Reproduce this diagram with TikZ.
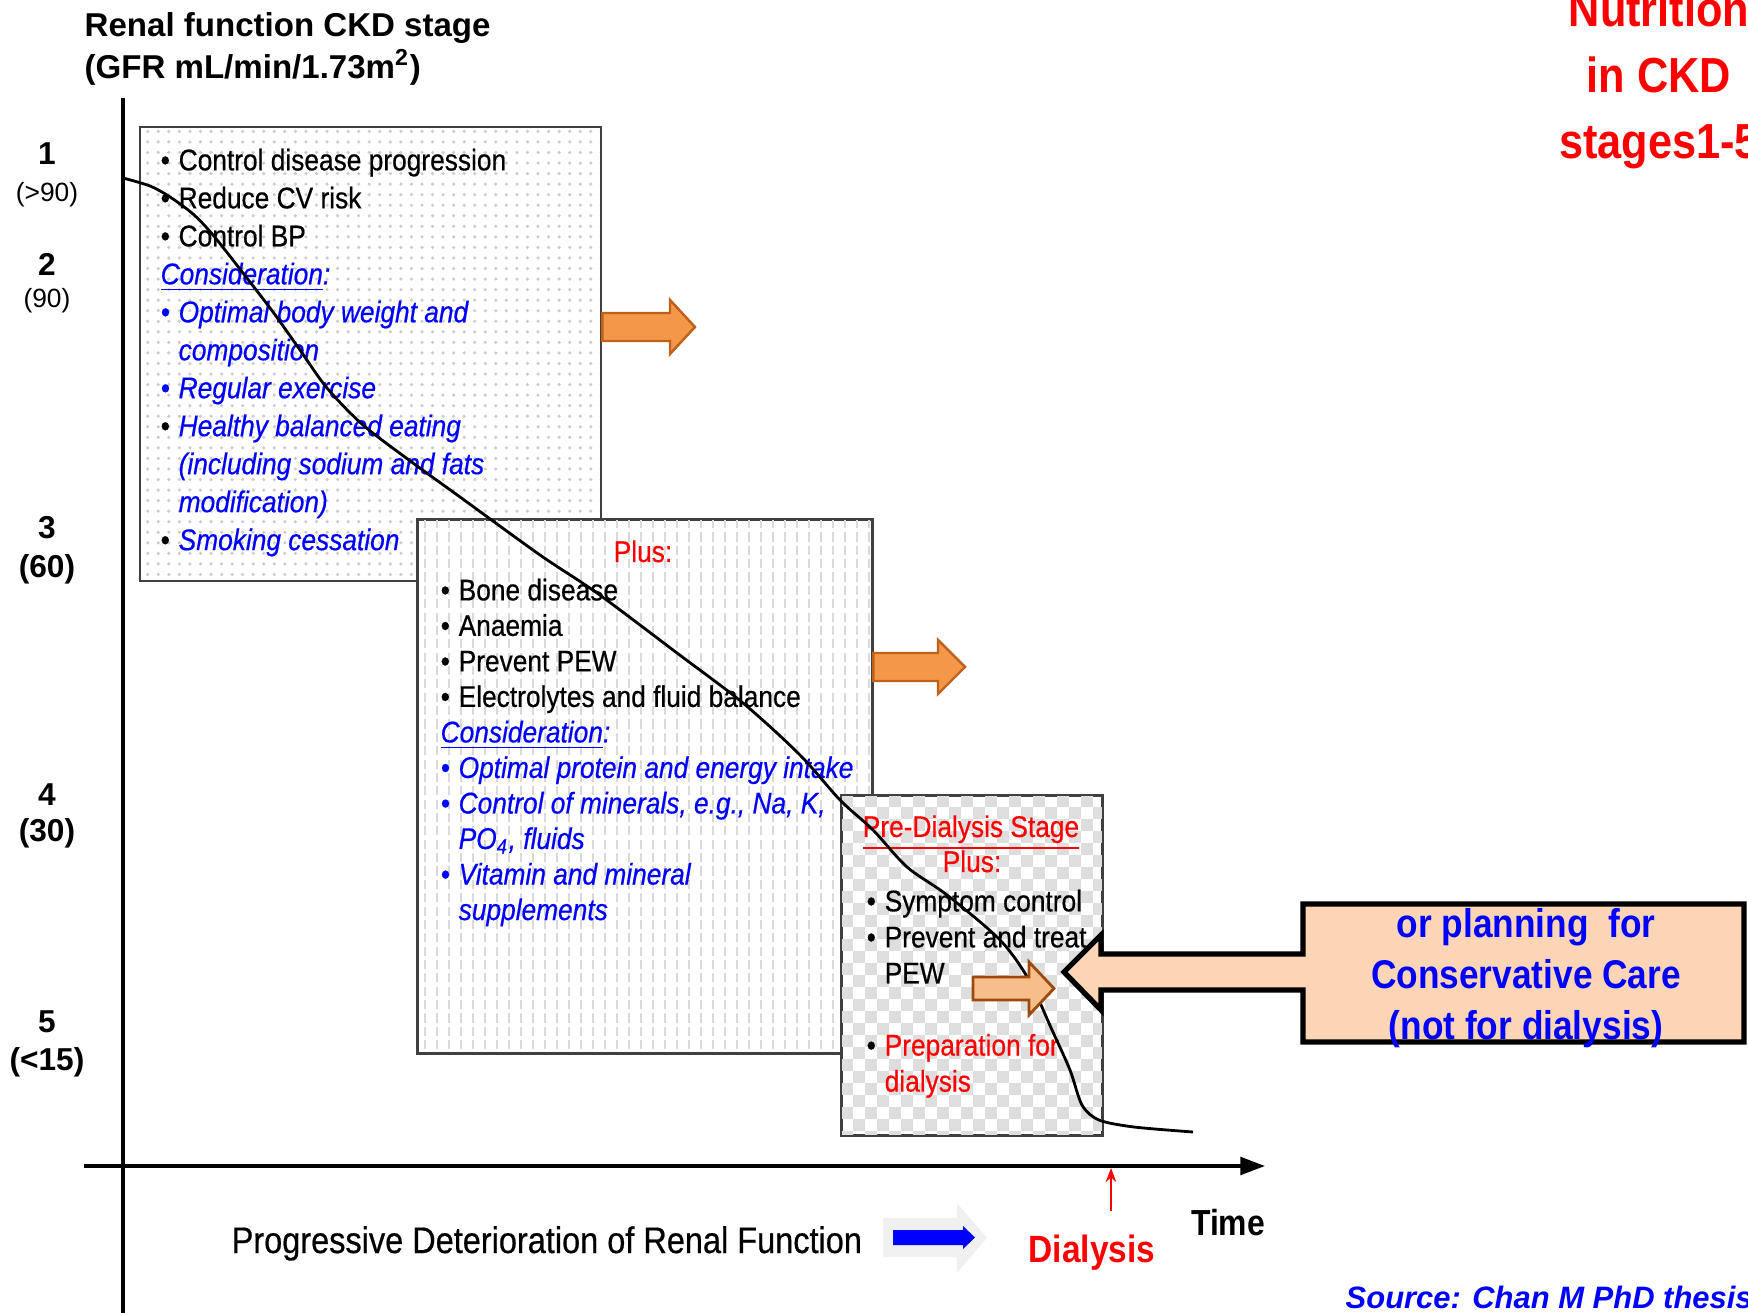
\documentclass[tikz,border=0pt]{standalone}
\usepackage{fontspec}
\setmainfont{Liberation Sans}
\newfontfamily\narrowfont{Liberation Sans}[FakeStretch=0.88]
\newfontfamily\bodyfont{Liberation Sans}[FakeStretch=0.88, FakeBold=0.5]
\usepackage{tikz}
\usetikzlibrary{arrows.meta, patterns}

\definecolor{ckdblue}{RGB}{0,0,255}
\definecolor{ckdred}{RGB}{255,0,0}
\definecolor{orangefill}{RGB}{243,152,72}
\definecolor{orangeline}{RGB}{192,97,27}
\definecolor{peachfill}{RGB}{251,213,181}
\definecolor{smallfill}{RGB}{247,190,140}
\definecolor{smallline}{RGB}{156,74,14}

\newcommand\bul{\makebox[1.8mm][l]{\textbullet}}
\newcommand\cont{\hspace*{1.8mm}}
\newcommand\cons[1]{\textcolor{ckdblue}{\itshape #1}}

\tikzset{
    stagebox/.style={draw=black!75, line width=0.6pt, inner sep=0pt, anchor=north west}, % 阶段框
    boxdash/.style={draw=black!15, line width=0.5pt, dash pattern=on 2.6pt off 1.2pt}, % 竖虚线底纹
    checker/.style={fill=black!13}, % 棋盘格底纹
    boxtext/.style={anchor=north west, inner sep=0pt, align=left, font=\bodyfont\fontsize{8.5}{#1}\selectfont}, % 框内文字
    plustext/.style={anchor=base, inner sep=0pt, text=ckdred, font=\bodyfont\fontsize{8.5}{10}\selectfont},
    stagenum/.style={inner sep=0pt, font=\bfseries\fontsize{9}{10}\selectfont},
    gfrsmall/.style={inner sep=0pt, font=\fontsize{7.5}{9}\selectfont},
    gfrbig/.style={inner sep=0pt, font=\bfseries\fontsize{9}{10}\selectfont},
    axistitle/.style={anchor=base west, inner sep=0pt, font=\bfseries\fontsize{9.4}{11}\selectfont},
    pagetitle/.style={anchor=north, inner sep=0pt, align=center, text=ckdred, font=\narrowfont\bfseries\fontsize{14}{18.8}\selectfont},
    orangearrow/.style={fill=orangefill, draw=orangeline, line width=0.7pt, line join=miter},
    callout/.style={fill=peachfill, draw=black, line width=1.5pt, line join=miter},
    callouttext/.style={anchor=north, inner sep=0pt, align=center, text=ckdblue, font=\narrowfont\bfseries\fontsize{11.4}{14.4}\selectfont},
    bottomtext/.style={anchor=base west, inner sep=0pt, font=\bodyfont\fontsize{10.5}{12}\selectfont},
    gfrcurve/.style={draw=black, line width=0.8pt},
    axisline/.style={draw=black, line width=1pt}
}

\begin{document}
\begin{tikzpicture}[x=0.01cm, y=-0.01cm]
    \useasboundingbox (0,0) rectangle (1748,1313);

    % 三个阶段框
    \node[stagebox, minimum width=4.61cm, minimum height=4.54cm, preaction={fill=white}, pattern=dots, pattern color=black!20] (box1) at (139,126) {};
    \node[stagebox, minimum width=4.54cm, minimum height=5.33cm, fill=white] (box2) at (417,519) {};
    \begin{scope}
        \clip (box2.north west) rectangle (box2.south east);
        \foreach \x in {425,437,...,869} {\draw[boxdash] (\x,519) -- (\x,1052);}
    \end{scope}
    \draw[stagebox] (box2.north west) rectangle (box2.south east);
    \node[stagebox, minimum width=2.60cm, minimum height=3.39cm, fill=white] (box3) at (841,795) {};
    \begin{scope}
        \clip (box3.north west) rectangle (box3.south east);
        \foreach \i in {0,24,...,264} {\foreach \j in {0,24,...,336} {
            \fill[checker] (841+\i,795+\j) rectangle ++(12,12);
            \fill[checker] (853+\i,807+\j) rectangle ++(12,12);}}
    \end{scope}
    \draw[stagebox] (box3.north west) rectangle (box3.south east);

    % 框内文字
    \node[boxtext=10.8] (care1) at (160,148) {
        \bul Control disease progression\\
        \bul Reduce CV risk\\
        \bul Control BP\\
        \cons{\underline{Consideration}:}\\
        \cons{\bul Optimal body weight and}\\
        \cons{\cont composition}\\
        \cons{\bul Regular exercise}\\
        \bul\cons{Healthy balanced eating}\\
        \cons{\cont (including sodium and fats}\\
        \cons{\cont modification)}\\
        \bul\cons{Smoking cessation}};
    \node[plustext] (plus2) at (643,562) {Plus:};
    \node[boxtext=10.1] (care2) at (440,578) {
        \bul Bone disease\\
        \bul Anaemia\\
        \bul Prevent PEW\\
        \bul Electrolytes and fluid balance\\
        \cons{\underline{Consideration}:}\\
        \cons{\bul Optimal protein and energy intake}\\
        \cons{\bul Control of minerals, e.g., Na, K,}\\
        \cons{\cont PO\textsubscript{4}, fluids}\\
        \cons{\bul Vitamin and mineral}\\
        \cons{\cont supplements}};
    \node[plustext] (stage5) at (971,837) {\underline{Pre-Dialysis Stage}};
    \node[plustext] (plus3) at (972,872) {Plus:};
    \node[boxtext=10.25] (care3) at (866,889) {
        \bul Symptom control\\
        \bul Prevent and treat\\
        \cont PEW\\
        \mbox{}\\
        \bul\textcolor{ckdred}{Preparation for}\\
        \textcolor{ckdred}{\cont dialysis}};

    % 纵轴标签
    \node[axistitle] (ytitle) at (84,37) {Renal function CKD stage};
    \node[axistitle] (yunit) at (84,79) {(GFR mL/min/1.73m\textsuperscript{2})};
    \foreach \s/\y in {1/154, 2/264, 3/528, 4/795, 5/1022} {\node[stagenum] (stage\s) at (47,\y) {\s};}
    \node[gfrsmall] (gfr1) at (47,195) {(>90)};
    \node[gfrsmall] (gfr2) at (47,301) {(90)};
    \node[gfrbig] (gfr3) at (47,569) {(60)};
    \node[gfrbig] (gfr4) at (47,833) {(30)};
    \node[gfrbig] (gfr5) at (47,1062) {(<15)};

    \node[pagetitle] (title) at (1659,-10) {Nutrition\\in CKD\\stages1-5};

    % 橙色箭头
    \draw[orangearrow] (box1.east |- 0,313) -- (670,313) -- (670,300) -- (695,327) -- (670,354) -- (670,341) -- (box1.east |- 0,341) -- cycle;
    \draw[orangearrow] (box2.east |- 0,653) -- (938,653) -- (938,640) -- (965,667) -- (938,694) -- (938,681) -- (box2.east |- 0,681) -- cycle;

    % 保守治疗
    \draw[callout] (1303,904) -- (1744,904) -- (1744,1042) -- (1303,1042) -- (1303,990) -- (1101,990) -- (1101,1010) -- (1064,972) -- (1101,935) -- (1101,954) -- (1303,954) -- cycle;
    \node[callouttext] (care) at (1526,908) {or planning\ \ for\\Conservative Care\\(not for dialysis)};

    % GFR 曲线
    \draw[gfrcurve] plot[smooth, tension=0.5] coordinates {(123,178) (150,186) (170,197) (193,214) (213,235) (243,273) (273,312) (300,350) (327,388) (363,425) (413,463) (460,497) (540,555) (597,593) (677,653) (743,703) (800,755) (840,800) (873,830) (907,867) (947,895) (1000,940) (1029,980) (1052,1030) (1070,1070) (1082,1105) (1099,1120) (1134,1127) (1193,1132)};
    \draw[fill=smallfill, draw=smallline, line width=0.8pt, line join=miter] (973,977) -- (1029,977) -- (1029,962) -- (1054,988.5) -- (1029,1015) -- (1029,1000) -- (973,1000) -- cycle;

    % 坐标轴
    \coordinate (origin) at (123,1166);
    \coordinate (dialtick) at (1111,1168);
    \draw[axisline] (origin |- 0,98) -- (origin |- 0,1313);
    \draw[axisline, -{Triangle[length=7pt, width=5pt]}] (84,1166) -- (1265,1166);

    \node[bottomtext] (trend) at (231,1253) {Progressive Deterioration of Renal Function};
    \fill[black!6] (883,1218) -- (957,1218) -- (957,1203) -- (987,1238) -- (957,1273) -- (957,1257) -- (883,1257) -- cycle;
    \fill[ckdblue] (893,1230) -- (963,1230) -- (963,1226) -- (975,1237.5) -- (963,1249) -- (963,1245) -- (893,1245) -- cycle;
    \node[anchor=base, inner sep=0pt, text=ckdred, font=\narrowfont\bfseries\fontsize{10.8}{12}\selectfont] (dial) at (1092,1262) {Dialysis};
    \draw[ckdred, line width=0.6pt, -{Stealth[length=4pt, width=3pt]}] (dialtick) ++(0,43) -- (dialtick);
    \node[anchor=base, inner sep=0pt, font=\narrowfont\bfseries\fontsize{10.3}{12}\selectfont] (time) at (1228,1235) {Time};
    \node[anchor=base west, inner sep=0pt, text=ckdblue, font=\bfseries\itshape\fontsize{8.8}{10}\selectfont] (source) at (1345,1308) {Source: Chan M PhD thesis};
\end{tikzpicture}
\end{document}
